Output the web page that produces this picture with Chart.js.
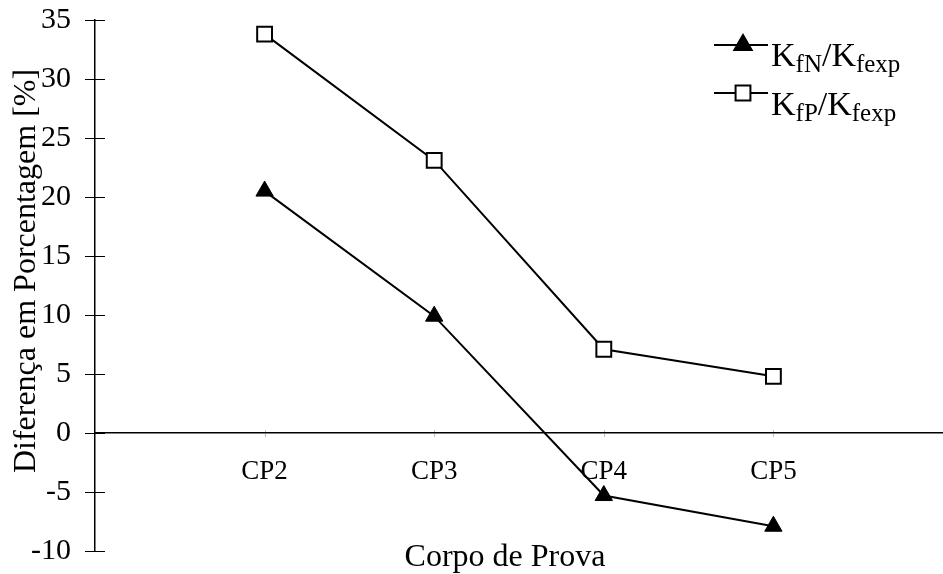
<!DOCTYPE html>
<html>
<head>
<meta charset="utf-8">
<script src="https://cdn.jsdelivr.net/npm/chart.js@4.4.0/dist/chart.umd.min.js"></script>
<style>
  html, body { margin: 0; padding: 0; background: #fff; }
  #wrap { width: 943px; height: 574px; }
</style>
</head>
<body>
<div id="wrap"><canvas id="chart"></canvas></div>
<script>
"use strict";

// data
const categories = ["", "CP2", "CP3", "CP4", "CP5", ""];
const kfnValues = [null, 20.5, 9.9, -5.3, -7.9, null];
const kfpValues = [null, 33.8, 23.1, 7.1, 4.8, null];
const yTicks = [-10, -5, 0, 5, 10, 15, 20, 25, 30, 35];
const xTitle = "Corpo de Prova";
const yTitle = "Diferença em Porcentagem [%]";
// legend text pieces: [text, isSubscript]
const legendKfn = [["K", false], ["fN", true], ["/K", false], ["fexp", true]];
const legendKfp = [["K", false], ["fP", true], ["/K", false], ["fexp", true]];

const serif = "'Liberation Serif', 'Times New Roman', serif";

function drawRichText(ctx, parts, x, y) {
  let cx = x;
  parts.forEach(function (p) {
    ctx.font = p[1] ? "25px " + serif : "34px " + serif;
    ctx.fillText(p[0], cx, p[1] ? y + 6 : y);
    cx += ctx.measureText(p[0]).width;
  });
}

const extras = {
  id: "extras",
  afterDraw(chart) {
    const ctx = chart.ctx;
    const xScale = chart.scales.x;
    const yScale = chart.scales.y;
    const area = chart.chartArea;
    ctx.save();

    // crossing ticks on the y axis
    ctx.strokeStyle = "#000";
    ctx.lineWidth = 1;
    yScale.ticks.forEach(function (t) {
      const py = Math.round(yScale.getPixelForValue(t.value)) + 0.5;
      ctx.beginPath();
      ctx.moveTo(area.left - 10, py);
      ctx.lineTo(area.left + 10, py);
      ctx.stroke();
    });

    // small grey marks at the categories on the zero line
    const zeroY = yScale.getPixelForValue(0);
    ctx.strokeStyle = "#bbb";
    for (let i = 1; i < categories.length - 1; i++) {
      const px = Math.round(xScale.getPixelForValue(i)) + 0.5;
      ctx.beginPath();
      ctx.moveTo(px, zeroY - 3);
      ctx.lineTo(px, zeroY - 1);
      ctx.moveTo(px, zeroY + 1);
      ctx.lineTo(px, zeroY + 4);
      ctx.stroke();
    }

    // axis titles
    ctx.fillStyle = "#000";
    ctx.textBaseline = "alphabetic";
    ctx.textAlign = "center";
    ctx.font = "32px " + serif;
    ctx.fillText(xTitle, 505, 566);
    ctx.save();
    ctx.translate(35, 271);
    ctx.rotate(-Math.PI / 2);
    ctx.fillText(yTitle, 0, 0);
    ctx.restore();

    // legend
    const rows = [
      { parts: legendKfn, lineY: 45, textY: 66, idx: 0 },
      { parts: legendKfp, lineY: 93, textY: 115, idx: 1 }
    ];
    ctx.textAlign = "left";
    rows.forEach(function (r) {
      const ds = chart.data.datasets[r.idx];
      ctx.strokeStyle = "#000";
      ctx.lineWidth = 2;
      ctx.beginPath();
      ctx.moveTo(714, r.lineY);
      ctx.lineTo(768, r.lineY);
      ctx.stroke();
      ctx.fillStyle = ds.pointBackgroundColor;
      ctx.strokeStyle = "#000";
      Chart.helpers.drawPoint(ctx, {
        pointStyle: ds.pointStyle,
        radius: ds.pointRadius,
        borderWidth: ds.pointBorderWidth,
        rotation: 0
      }, 743, r.lineY);
      ctx.fillStyle = "#000";
      drawRichText(ctx, r.parts, 771, r.textY);
    });

    ctx.restore();
  }
};

const data = {
  labels: categories,
  datasets: [
    {
      label: "KfN/Kfexp",
      data: kfnValues,
      borderColor: "#000",
      borderWidth: 2,
      pointStyle: "triangle",
      pointRadius: 10,
      pointBackgroundColor: "#000",
      pointBorderColor: "#000",
      pointBorderWidth: 1,
      tension: 0
    },
    {
      label: "KfP/Kfexp",
      data: kfpValues,
      borderColor: "#000",
      borderWidth: 2,
      pointStyle: "rect",
      pointRadius: 10.5,
      pointBackgroundColor: "#fff",
      pointBorderColor: "#000",
      pointBorderWidth: 2,
      tension: 0
    }
  ]
};

const config = {
  type: "line",
  data: data,
  options: {
    responsive: true,
    maintainAspectRatio: false,
    animation: false,
    layout: { autoPadding: false, padding: { left: 0, right: 0, top: 20, bottom: 23 } },
    plugins: {
      legend: { display: false },
      tooltip: { enabled: false }
    },
    scales: {
      x: {
        type: "category",
        offset: false,
        position: { y: 0 },
        border: { color: "#000", width: 1.5 },
        grid: { drawOnChartArea: false, tickLength: 23, tickColor: "rgba(0,0,0,0)" },
        ticks: {
          color: "#000",
          padding: 0,
          maxRotation: 0,
          autoSkip: false,
          font: { family: serif, size: 27 }
        }
      },
      y: {
        min: yTicks[0],
        max: yTicks[yTicks.length - 1],
        border: { color: "#000", width: 1.5 },
        grid: { drawOnChartArea: false, tickLength: 24, tickColor: "rgba(0,0,0,0)" },
        ticks: {
          stepSize: 5,
          color: "#000",
          padding: 0,
          font: { family: serif, size: 30 }
        },
        afterFit(scale) { scale.width = 95; }
      }
    }
  },
  plugins: [extras]
};

const myChart = new Chart(document.getElementById("chart"), config);
</script>
</body>
</html>
